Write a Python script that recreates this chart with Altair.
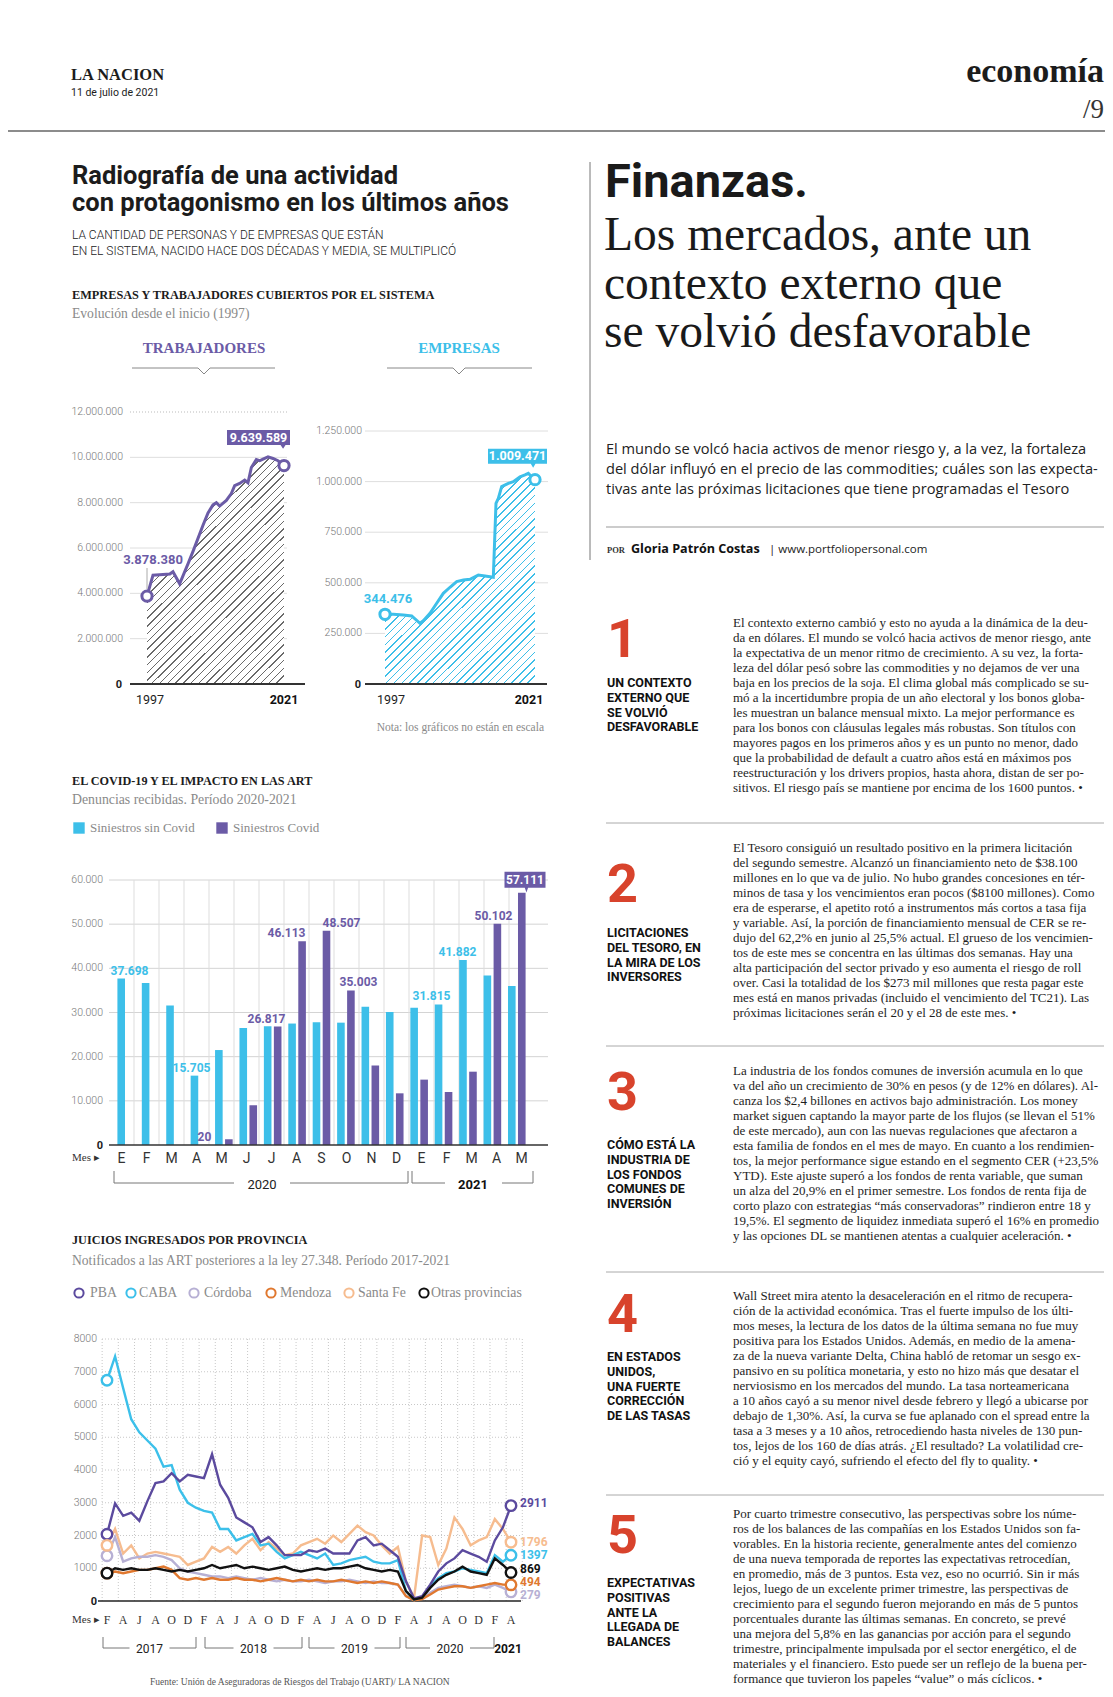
import altair as alt
import pandas as pd

OX = OY = 8
PURPLE = '#6b5ba6'
CYAN = '#3dbfe9'
RED = '#d8432c'
INK = '#1c1c1c'
GRAY = '#8a8a8a'
SERIF = 'Liberation Serif'
SANS = 'Roboto'

# ---------------- data ----------------
trab_anio = [1997, 1998.05, 1999.2, 2001.0, 2001.55, 2002.72, 2004.18, 2005.06, 2006.81, 2007.69,
             2008.56, 2009.15, 2009.73, 2010.9, 2011.77, 2012.36, 2013.23, 2014.11, 2014.69,
             2015.28, 2016.15, 2016.74, 2017.32, 2018.2, 2019.07, 2019.95, 2021]
trab_val = [3878380, 4800000, 4820000, 4850000, 4950000, 4420000, 5300000, 5850000, 7000000, 7550000,
            7900000, 8000000, 7850000, 8100000, 8400000, 8750000, 8850000, 9000000, 8880000,
            9550000, 9900000, 9850000, 9920000, 10020000, 9950000, 9850000, 9639589]
trab_ticks = [2000000, 4000000, 6000000, 8000000, 10000000, 12000000]

emp_anio = [1997, 1998.33, 1999.93, 2001.27, 2002.6, 2003.13, 2004.2, 2005.27, 2006.33, 2007.4,
            2008.47, 2009.53, 2010.6, 2011.93, 2013.0, 2014.33, 2014.76, 2015.13, 2015.67,
            2016.73, 2017.53, 2018.6, 2019.4, 2019.93, 2020.47, 2021]
emp_val = [344476, 344000, 341000, 336000, 300000, 313000, 349000, 399000, 448000, 478000,
           506000, 514000, 517000, 538000, 534000, 527000, 893000, 917000, 975000,
           991000, 1000000, 1024000, 1033000, 1041000, 1024000, 1009471]
emp_ticks = [250000, 500000, 750000, 1000000, 1250000]

meses = ['E', 'F', 'M', 'A', 'M', 'J', 'J', 'A', 'S', 'O', 'N', 'D', 'E', 'F', 'M', 'A', 'M']
sin_covid = [37698, 36700, 31600, 15705, 21500, 26500, 26900, 27500, 27800, 27700, 31300, 30100,
             31100, 31815, 41882, 38400, 36000]
con_covid = [0, 0, 0, 20, 1300, 9000, 26817, 46113, 48507, 35003, 18000, 11700,
             14800, 12000, 16600, 50102, 57111]
covid_ticks = [10000, 20000, 30000, 40000, 50000, 60000]

juicio_meses = ['F', 'A', 'J', 'A', 'O', 'D'] * 4 + ['F', 'A']
pba = [2040, 2980, 2600, 2700, 2450, 3050, 3600, 3650, 3900, 3650, 3850, 3800, 3750, 4480, 3550, 3150,
       2550, 2400, 2250, 1800, 1950, 1700, 1400, 1400, 1400, 1550, 1500, 1600, 1450, 1450, 1450, 1850,
       1950, 1700, 1750, 1550, 1350, 600, 80, 150, 500, 900, 1150, 1300, 1550, 1450, 1350, 1200, 1850,
       2250, 2911]
caba = [6740, 7470, 6500, 5550, 5150, 4900, 4650, 4100, 4150, 3400, 3000, 2850, 2750, 2700, 2200, 2200,
        1850, 1950, 2050, 1700, 1750, 1500, 1300, 1400, 1500, 1400, 1300, 1450, 1100, 1150, 1250, 1300,
        1350, 1200, 1150, 1150, 1250, 300, 50, 120, 450, 700, 850, 900, 1000, 950, 900, 850, 1400,
        1200, 1397]
cordoba = [1380, 1950, 1200, 1300, 1350, 1350, 1400, 1350, 1250, 1000, 900, 850, 800, 750, 750, 700,
           750, 700, 650, 700, 650, 600, 650, 600, 600, 650, 600, 550, 600, 600, 650, 600, 550, 600,
           550, 550, 500, 150, 30, 80, 250, 400, 450, 500, 450, 400, 450, 400, 500, 400, 279]
mendoza = [850, 900, 850, 900, 950, 950, 1000, 1050, 950, 700, 650, 700, 650, 700, 650, 650, 700, 650,
           650, 600, 650, 700, 650, 600, 650, 600, 650, 600, 600, 650, 600, 550, 600, 550, 600, 550,
           500, 150, 20, 60, 200, 350, 400, 450, 450, 400, 450, 500, 550, 500, 494]
santafe = [1700, 2200, 1450, 1700, 1300, 1450, 1500, 1450, 1400, 1350, 1100, 1200, 1300, 1650, 1500,
           1650, 1450, 1700, 1900, 1550, 1800, 1600, 1400, 1450, 1700, 1800, 1900, 1750, 2000, 1800,
           2050, 2300, 2100, 2000, 1700, 1450, 1650, 600, 100, 2000, 1950, 1100, 1600, 2550, 2200,
           1700, 1850, 1950, 2500, 2200, 1796]
otras = [850, 1000, 950, 1000, 950, 950, 1000, 950, 900, 950, 900, 950, 1000, 1100, 1000, 1050, 1100,
         1000, 1050, 1000, 950, 1000, 1050, 950, 900, 950, 1000, 950, 1000, 1000, 1050, 1100, 1000,
         950, 900, 950, 900, 300, 50, 100, 400, 650, 800, 900, 1050, 900, 850, 800, 1300, 1100, 869]
juicio_ticks = [1000, 2000, 3000, 4000, 5000, 6000, 7000, 8000]
provincias = ['PBA', 'CABA', 'Córdoba', 'Mendoza', 'Santa Fe', 'Otras provincias']
prov_colores = ['#5b4a9e', '#3cc0ea', '#b7b0d4', '#e0782f', '#f6bc8f', '#111111']

# ---------------- helpers ----------------
one = pd.DataFrame({'k': [0]})


def fmt(v):
    return f"{int(round(v)):,}".replace(",", ".")


def T(text, x, y, size=12, font=SERIF, weight='normal', color=INK, align='left',
      baseline='alphabetic', lh=None, style=None):
    kw = dict(text=text, font=font, fontSize=size, fontWeight=weight, color=color,
              align=align, baseline=baseline)
    if lh is not None:
        kw['lineHeight'] = lh
    if style:
        kw['fontStyle'] = style
    return alt.Chart(one).mark_text(**kw).encode(x=alt.value(x - OX), y=alt.value(y - OY))


def R(x1, y1, x2, y2, color='#999', w=1.0, dash=None):
    kw = dict(color=color, strokeWidth=w)
    if dash:
        kw['strokeDash'] = dash
    return alt.Chart(one).mark_rule(**kw).encode(
        x=alt.value(x1 - OX), y=alt.value(y1 - OY), x2=alt.value(x2 - OX), y2=alt.value(y2 - OY))


def hatch(color, W, H, period=5.5, frac=0.18):
    r = W / H
    k = (r + 1) / (r * r + 1)
    n = int(round((W + H) / 2 ** 0.5 / period))
    stops = []
    for i in range(n):
        a, b, c = i / n, (i + 1 - frac) / n, (i + 1) / n
        stops += [alt.GradientStop(color='#ffffff', offset=a), alt.GradientStop(color='#ffffff', offset=b),
                  alt.GradientStop(color=color, offset=b), alt.GradientStop(color=color, offset=c)]
    return alt.LinearGradient(gradient='linear', stops=stops, x1=0, y1=0, x2=k * r, y2=k)


def box_path(hw, hh, tip_x, tip_y):
    return (f"M-1,{-hh} L1,{-hh} L1,{hh} L{tip_x + 0.08},{hh} L{tip_x},{tip_y} "
            f"L{tip_x - 0.08},{hh} L-1,{hh} Z")


layers = []

# ---------------- header ----------------
layers += [
    T('LA NACION', 71, 80, size=16.5, weight='bold'),
    T('11 de julio de 2021', 71, 96, size=10.5, font=SANS),
    T('economía', 1104, 82, size=34, weight='bold', align='right'),
    T('/9', 1104, 118, size=27, align='right', color='#333'),
    R(0, 131, 1113, 131, color='#666', w=1.5),
    R(590, 162, 590, 560, color='#777', w=1),
]

# ---------------- left column titles ----------------
layers += [
    T('Radiografía de una actividad', 72, 184, size=25.5, font=SANS, weight='bold'),
    T('con protagonismo en los últimos años', 72, 211, size=25.5, font=SANS, weight='bold'),
    T(['LA CANTIDAD DE PERSONAS Y DE EMPRESAS QUE ESTÁN',
       'EN EL SISTEMA, NACIDO HACE DOS DÉCADAS Y MEDIA, SE MULTIPLICÓ'], 72, 239,
      size=12, font=SANS, weight=300, lh=16, color='#222'),
    T('EMPRESAS Y TRABAJADORES CUBIERTOS POR EL SISTEMA', 72, 299, size=12.3, weight='bold'),
    T('Evolución desde el inicio (1997)', 72, 318, size=13.6, color=GRAY),
    T('TRABAJADORES', 204, 353, size=15, weight='bold', color=PURPLE, align='center'),
    T('EMPRESAS', 459, 353, size=15, weight='bold', color=CYAN, align='center'),
    R(132, 368, 198, 368, color='#888'), R(198, 368, 204, 374, color='#888'),
    R(204, 374, 210, 368, color='#888'), R(210, 368, 275, 368, color='#888'),
    R(387, 368, 453, 368, color='#888'), R(453, 368, 459, 374, color='#888'),
    R(459, 374, 465, 368, color='#888'), R(465, 368, 532, 368, color='#888'),
]

# ---------------- trabajadores chart ----------------
df_t = pd.DataFrame({'anio': trab_anio, 'val': trab_val})
df_tt = pd.DataFrame({'v': trab_ticks, 'lab': [fmt(v) for v in trab_ticks]})
xs_t = alt.Scale(domain=[1997, 2021], range=[147 - OX, 284 - OX], nice=False, zero=False)
ys_t = alt.Scale(domain=[0, 12000000], range=[684 - OY, 412 - OY], nice=False)
Xt = alt.X('anio:Q', scale=xs_t, axis=None)
Yt = alt.Y('val:Q', scale=ys_t, axis=None)
Ytick = alt.Y('v:Q', scale=ys_t, axis=None)
layers += [
    alt.Chart(df_tt).transform_filter('datum.v < 12000000').mark_rule(color='#dedede', strokeWidth=1)
    .encode(y=Ytick, x=alt.value(130 - OX), x2=alt.value(287 - OX)),
    alt.Chart(df_tt).transform_filter('datum.v >= 12000000').mark_rule(color='#bbbbbb', strokeWidth=1, strokeDash=[1, 2])
    .encode(y=Ytick, x=alt.value(130 - OX), x2=alt.value(287 - OX)),
    alt.Chart(df_tt).mark_text(align='right', baseline='middle', font=SANS, fontWeight=300, fontSize=10.5, color='#777')
    .encode(y=Ytick, x=alt.value(123 - OX), text='lab:N'),
    alt.Chart(df_t).mark_area(color=hatch('#6a6a6a', 137, 228), interpolate='linear').encode(x=Xt, y=Yt),
    alt.Chart(df_t).mark_line(color=PURPLE, strokeWidth=3).encode(x=Xt, y=Yt),
    R(130, 684, 305, 684, color='#333', w=2),
    T('0', 122, 688, size=11, font=SANS, weight='bold', align='right'),
    alt.Chart(df_t.iloc[[0]].assign(lab=['1997'])).mark_text(font=SANS, fontSize=12.5, color='#222', dx=3)
    .encode(x=Xt, y=alt.value(700 - OY), text='lab:N'),
    alt.Chart(df_t.iloc[[-1]].assign(lab=['2021'])).mark_text(font=SANS, fontSize=12.5, fontWeight='bold', color='#111')
    .encode(x=Xt, y=alt.value(700 - OY), text='lab:N'),
    alt.Chart(df_t.iloc[[0]]).mark_rule(color='#aaa', strokeWidth=1).encode(x=Xt, y=alt.value(568 - OY), y2=alt.value(589 - OY)),
    alt.Chart(df_t.iloc[[0, -1]]).mark_point(shape='circle', filled=True, fill='white', stroke=PURPLE, strokeWidth=3,
                                             size=105, opacity=1).encode(x=Xt, y=Yt),
    alt.Chart(df_t.iloc[[0]].assign(lab=[fmt(trab_val[0])])).mark_text(
        font=SANS, fontWeight='bold', fontSize=13, color=PURPLE, dx=6, dy=-32, baseline='alphabetic')
    .encode(x=Xt, y=Yt, text='lab:N'),
    alt.Chart(df_t.iloc[[-1]]).mark_point(shape=box_path(1, 0.24, 0.78, 0.36), filled=True, color=PURPLE,
                                          opacity=1, size=3969, xOffset=-25.5, yOffset=-28).encode(x=Xt, y=Yt),
    alt.Chart(df_t.iloc[[-1]].assign(lab=[fmt(trab_val[-1])])).mark_text(
        font=SANS, fontWeight='bold', fontSize=12.5, color='white', dx=-25.5, dy=-28, baseline='middle')
    .encode(x=Xt, y=Yt, text='lab:N'),
]

# ---------------- empresas chart ----------------
df_e = pd.DataFrame({'anio': emp_anio, 'val': emp_val})
df_et = pd.DataFrame({'v': emp_ticks, 'lab': [fmt(v) for v in emp_ticks]})
xs_e = alt.Scale(domain=[1997, 2021], range=[385 - OX, 535 - OX], nice=False, zero=False)
ys_e = alt.Scale(domain=[0, 1250000], range=[684 - OY, 431 - OY], nice=False)
Xe = alt.X('anio:Q', scale=xs_e, axis=None)
Ye = alt.Y('val:Q', scale=ys_e, axis=None)
Yetick = alt.Y('v:Q', scale=ys_e, axis=None)
layers += [
    alt.Chart(df_et).mark_rule(color='#dedede', strokeWidth=1)
    .encode(y=Yetick, x=alt.value(365 - OX), x2=alt.value(548 - OX)),
    alt.Chart(df_et).mark_text(align='right', baseline='middle', font=SANS, fontWeight=300, fontSize=10.5, color='#777')
    .encode(y=Yetick, x=alt.value(362 - OX), text='lab:N'),
    alt.Chart(df_e).mark_area(color=hatch(CYAN, 150, 211, frac=0.2), interpolate='linear').encode(x=Xe, y=Ye),
    alt.Chart(df_e).mark_line(color=CYAN, strokeWidth=3).encode(x=Xe, y=Ye),
    R(365, 684, 547, 684, color='#333', w=2),
    T('0', 361, 688, size=11, font=SANS, weight='bold', align='right'),
    alt.Chart(df_e.iloc[[0]].assign(lab=['1997'])).mark_text(font=SANS, fontSize=12.5, color='#222', dx=6)
    .encode(x=Xe, y=alt.value(700 - OY), text='lab:N'),
    alt.Chart(df_e.iloc[[-1]].assign(lab=['2021'])).mark_text(font=SANS, fontSize=12.5, fontWeight='bold', color='#111', dx=-6)
    .encode(x=Xe, y=alt.value(700 - OY), text='lab:N'),
    alt.Chart(df_e.iloc[[0, -1]]).mark_point(shape='circle', filled=True, fill='white', stroke=CYAN, strokeWidth=3,
                                             size=105, opacity=1).encode(x=Xe, y=Ye),
    alt.Chart(df_e.iloc[[0]].assign(lab=[fmt(emp_val[0])])).mark_text(
        font=SANS, fontWeight='bold', fontSize=13, color=CYAN, dx=3, dy=-11, baseline='alphabetic')
    .encode(x=Xe, y=Ye, text='lab:N'),
    alt.Chart(df_e.iloc[[-1]]).mark_point(shape=box_path(1, 0.254, 0.53, 0.39), filled=True, color=CYAN,
                                          opacity=1, size=3481, xOffset=-17.5, yOffset=-23.5).encode(x=Xe, y=Ye),
    alt.Chart(df_e.iloc[[-1]].assign(lab=[fmt(emp_val[-1])])).mark_text(
        font=SANS, fontWeight='bold', fontSize=12.5, color='white', dx=-17.5, dy=-23.5, baseline='middle')
    .encode(x=Xe, y=Ye, text='lab:N'),
    T('Nota: los gráficos no están en escala', 544, 731, size=11.5, color=GRAY, align='right'),
]

# ---------------- covid bar chart ----------------
df_c = pd.DataFrame({'i': list(range(len(meses))), 'mes': meses, 'sin': sin_covid, 'con': con_covid})
df_c['lab_sin'] = [fmt(v) for v in sin_covid]
df_c['lab_con'] = [fmt(v) for v in con_covid]
df_ct = pd.DataFrame({'v': covid_ticks, 'lab': [fmt(v) for v in covid_ticks]})
xs_c = alt.Scale(domain=[0, 17], range=[109 - OX, 534 - OX], nice=False, zero=False)
ys_c = alt.Scale(domain=[0, 60000], range=[1145 - OY, 880 - OY], nice=False)
Xc = alt.X('c:Q', scale=xs_c, axis=None)
Xb = alt.X('i:Q', scale=xs_c, axis=None)
Yctick = alt.Y('v:Q', scale=ys_c, axis=None)
lab_dx_sin = {0: 13, 3: 0, 13: -10, 14: -9}
lab_dx_con = {3: 3, 6: -10, 7: -15, 8: 15, 9: 7, 15: -8}

base_c = alt.Chart(df_c).transform_calculate(c='datum.i + 0.5')
layers += [
    T('EL COVID-19 Y EL IMPACTO EN LAS ART', 72, 785, size=12.2, weight='bold'),
    T('Denuncias recibidas. Período 2020-2021', 72, 804, size=13.8, color=GRAY),
    alt.Chart(one).mark_square(color=CYAN, size=130, opacity=1).encode(x=alt.value(79 - OX), y=alt.value(828 - OY)),
    T('Siniestros sin Covid', 90, 832, size=13, color=GRAY),
    alt.Chart(one).mark_square(color=PURPLE, size=130, opacity=1).encode(x=alt.value(222 - OX), y=alt.value(828 - OY)),
    T('Siniestros Covid', 233, 832, size=13, color=GRAY),
    alt.Chart(df_ct).mark_rule(color='#d4d4d4', strokeWidth=1)
    .encode(y=Yctick, x=alt.value(109 - OX), x2=alt.value(548 - OX)),
    alt.Chart(df_c).transform_filter('datum.i > 0').mark_rule(color='#dddddd', strokeWidth=1)
    .encode(x=Xb, y=alt.value(880 - OY), y2=alt.value(1145 - OY)),
    alt.Chart(df_ct).mark_text(align='right', baseline='middle', font=SANS, fontWeight=300, fontSize=10.5, color='#777')
    .encode(y=Yctick, x=alt.value(103 - OX), text='lab:N'),
    base_c.mark_bar(color=CYAN, width=7.6, xOffset=-5).encode(x=Xc, y=alt.Y('sin:Q', scale=ys_c, axis=None)),
    base_c.mark_bar(color=PURPLE, width=7.6, xOffset=5).encode(x=Xc, y=alt.Y('con:Q', scale=ys_c, axis=None)),
    R(109, 1145, 548, 1145, color='#333', w=1.5),
    T('0', 103, 1149, size=11, font=SANS, weight='bold', align='right'),
]
for idx, dx in lab_dx_sin.items():
    layers.append(base_c.transform_filter(f'datum.i == {idx}').mark_text(
        font=SANS, fontWeight='bold', fontSize=12, color=CYAN, dx=-5 + dx, dy=-4, baseline='alphabetic')
        .encode(x=Xc, y=alt.Y('sin:Q', scale=ys_c, axis=None), text='lab_sin:N'))
for idx, dx in lab_dx_con.items():
    layers.append(base_c.transform_filter(f'datum.i == {idx}').mark_text(
        font=SANS, fontWeight='bold', fontSize=12, color=PURPLE, dx=5 + dx, dy=-4, baseline='alphabetic')
        .encode(x=Xc, y=alt.Y('con:Q', scale=ys_c, axis=None), text='lab_con:N'))
last = len(meses) - 1
layers += [
    base_c.transform_filter(f'datum.i == {last}').mark_point(
        shape=box_path(1, 0.39, 0.07, 0.62), filled=True, color=PURPLE, opacity=1, size=1681,
        xOffset=3.5, yOffset=-13).encode(x=Xc, y=alt.Y('con:Q', scale=ys_c, axis=None)),
    base_c.transform_filter(f'datum.i == {last}').mark_text(
        font=SANS, fontWeight='bold', fontSize=12, color='white', dx=3.5, dy=-13, baseline='middle')
    .encode(x=Xc, y=alt.Y('con:Q', scale=ys_c, axis=None), text='lab_con:N'),
    base_c.mark_text(font=SANS, fontSize=14, color='#333', baseline='alphabetic')
    .encode(x=Xc, y=alt.value(1163 - OY), text='mes:N'),
    T('Mes ▸', 72, 1161, size=11, color='#333'),
    R(114, 1171, 114, 1183, color='#777'), R(114, 1183, 234, 1183, color='#777'),
    R(290, 1183, 408, 1183, color='#777'), R(408, 1171, 408, 1183, color='#777'),
    T('2020', 262, 1189, size=13, font=SANS, align='center', color='#222'),
    R(412, 1171, 412, 1183, color='#777'), R(412, 1183, 445, 1183, color='#777'),
    R(502, 1183, 533, 1183, color='#777'), R(533, 1171, 533, 1183, color='#777'),
    T('2021', 473, 1189, size=13, font=SANS, weight='bold', align='center', color='#111'),
]

# ---------------- juicios chart ----------------
series = [pba, caba, cordoba, mendoza, santafe, otras]
rows = []
for name, vals in zip(provincias, series):
    for i, v in enumerate(vals):
        rows.append({'i': i, 'val': v, 'prov': name})
df_j = pd.DataFrame(rows)
df_jt = pd.DataFrame({'v': juicio_ticks, 'lab': [str(v) for v in juicio_ticks]})
df_jm = pd.DataFrame({'i': [2 * k for k in range(len(juicio_meses))], 'mes': juicio_meses})
df_jg = pd.DataFrame({'g': [-0.6 + 2 * k for k in range(27)]})
xs_j = alt.Scale(domain=[0, 50], range=[107 - OX, 511 - OX], nice=False, zero=False)
ys_j = alt.Scale(domain=[0, 8000], range=[1601 - OY, 1339 - OY], nice=False)
Xj = alt.X('i:Q', scale=xs_j, axis=None)
Yj = alt.Y('val:Q', scale=ys_j, axis=None)
col_j = alt.Color('prov:N', scale=alt.Scale(domain=provincias, range=prov_colores), legend=None)

legend_circ = [79, 131, 194, 271, 349, 424]
legend_txt = [90, 139, 204, 280, 358, 431]
layers += [
    T('JUICIOS INGRESADOS POR PROVINCIA', 72, 1244, size=12.2, weight='bold'),
    T('Notificados a las ART posteriores a la ley 27.348. Período 2017-2021', 72, 1265, size=13.6, color=GRAY),
]
for name, c, lx, tx in zip(provincias, prov_colores, legend_circ, legend_txt):
    layers.append(alt.Chart(one).mark_point(shape='circle', filled=False, color=c, strokeWidth=2, size=85, opacity=1)
                  .encode(x=alt.value(lx - OX), y=alt.value(1293 - OY)))
    layers.append(T(name, tx, 1297, size=13.8, color=GRAY))
layers += [
    alt.Chart(df_jt).mark_rule(color='#c8c8c8', strokeWidth=1, strokeDash=[1, 2])
    .encode(y=alt.Y('v:Q', scale=ys_j, axis=None), x=alt.value(102 - OX), x2=alt.value(520 - OX)),
    alt.Chart(df_jg).mark_rule(color='#c8c8c8', strokeWidth=1, strokeDash=[1, 2])
    .encode(x=alt.X('g:Q', scale=xs_j, axis=None), y=alt.value(1339 - OY), y2=alt.value(1601 - OY)),
    alt.Chart(df_jt).mark_text(align='right', baseline='middle', font=SANS, fontWeight=300, fontSize=10.5, color='#777')
    .encode(y=alt.Y('v:Q', scale=ys_j, axis=None), x=alt.value(97 - OX), text='lab:N'),
    R(98, 1601, 521, 1601, color='#222', w=1.5),
    T('0', 97, 1605, size=11, font=SANS, weight='bold', align='right'),
]
order = ['Santa Fe', 'Córdoba', 'Mendoza', 'CABA', 'PBA', 'Otras provincias']
for name in order:
    layers.append(alt.Chart(df_j).transform_filter(alt.datum.prov == name)
                  .mark_line(strokeWidth=2.4, interpolate='linear').encode(x=Xj, y=Yj, color=col_j))
layers.append(alt.Chart(df_j).transform_filter('datum.i == 0 || datum.i == 50')
              .mark_point(shape='circle', filled=True, fill='white', strokeWidth=2.4, size=110, opacity=1)
              .encode(x=Xj, y=Yj, stroke=alt.Stroke('prov:N', scale=alt.Scale(domain=provincias, range=prov_colores), legend=None)))
end_dy = {'PBA': -3, 'Santa Fe': 0, 'CABA': 0, 'Otras provincias': -4, 'Mendoza': -3, 'Córdoba': 3}
for name, c in zip(provincias, prov_colores):
    layers.append(alt.Chart(df_j).transform_filter(f'datum.i == 50 && datum.prov == "{name}"')
                  .transform_calculate(lab='format(datum.val, "d")')
                  .mark_text(font=SANS, fontWeight='bold', fontSize=12, color=c, align='left', baseline='middle',
                             dx=9, dy=end_dy[name])
                  .encode(x=Xj, y=Yj, text='lab:N'))
layers += [
    alt.Chart(df_jm).mark_text(font=SERIF, fontSize=12, color='#333', baseline='alphabetic')
    .encode(x=Xj, y=alt.value(1624 - OY), text='mes:N'),
    T('Mes ▸', 72, 1623, size=11, color='#333'),
]
brackets = [(103, 196, '2017', 'normal'), (205, 302, '2018', 'normal'), (309, 400, '2019', 'normal'),
            (406, 494, '2020', 'normal'), (500, 516, '2021', 'bold')]
for x1, x2, lab, w in brackets:
    cx = (x1 + x2) / 2
    if x2 - x1 > 40:
        layers += [R(x1, 1637, x1, 1648, color='#777'), R(x2, 1637, x2, 1648, color='#777'),
                   R(x1, 1648, cx - 20, 1648, color='#777'), R(cx + 20, 1648, x2, 1648, color='#777')]
        layers.append(T(lab, cx, 1653, size=12, font=SANS, weight=w, align='center', color='#222'))
    else:
        layers.append(T(lab, 508, 1653, size=12, font=SANS, weight=w, align='center', color='#111'))
layers.append(T('Fuente: Unión de Aseguradoras de Riesgos del Trabajo (UART)/ LA NACION', 150, 1685,
                size=9.5, color='#555'))

# ---------------- right column ----------------
layers += [
    T('Finanzas.', 605, 197, size=47, font=SANS, weight='bold', color='#1a1a1a'),
    T(['Los mercados, ante un', 'contexto externo que', 'se volvió desfavorable'], 604, 250,
      size=47.5, font=SERIF, color='#1a1a1a', lh=48.5),
    T(['El mundo se volcó hacia activos de menor riesgo y, a la vez, la fortaleza',
       'del dólar influyó en el precio de las commodities; cuáles son las expecta-',
       'tivas ante las próximas licitaciones que tiene programadas el Tesoro'], 606, 454,
      size=14.6, font='Open Sans', color='#222', lh=20),
    R(606, 527, 1104, 527, color='#999', w=1),
    T('POR', 607, 553, size=8.5, weight='bold', color='#333'),
    T('Gloria Patrón Costas', 631, 553, size=12.6, font='Open Sans', weight='bold', color='#111'),
    T('| www.portfoliopersonal.com', 769, 553, size=11.5, font='Open Sans', color='#222'),
]

sections = [
    ('1', ['UN CONTEXTO', 'EXTERNO QUE', 'SE VOLVIÓ', 'DESFAVORABLE'],
     ['El contexto externo cambió y esto no ayuda a la dinámica de la deu-',
      'da en dólares. El mundo se volcó hacia activos de menor riesgo, ante',
      'la expectativa de un menor ritmo de crecimiento. A su vez, la forta-',
      'leza del dólar pesó sobre las commodities y no dejamos de ver una',
      'baja en los precios de la soja. El clima global más complicado se su-',
      'mó a la incertidumbre propia de un año electoral y los bonos globa-',
      'les muestran un balance mensual mixto. La mejor performance es',
      'para los bonos con cláusulas legales más robustas. Son títulos con',
      'mayores pagos en los primeros años y es un punto no menor, dado',
      'que la probabilidad de default a cuatro años está en máximos pos',
      'reestructuración y los drivers propios, hasta ahora, distan de ser po-',
      'sitivos. El riesgo país se mantiene por encima de los 1600 puntos. •'], 627, 657, 687),
    ('2', ['LICITACIONES', 'DEL TESORO, EN', 'LA MIRA DE LOS', 'INVERSORES'],
     ['El Tesoro consiguió un resultado positivo en la primera licitación',
      'del segundo semestre. Alcanzó un financiamiento neto de $38.100',
      'millones en lo que va de julio. No hubo grandes concesiones en tér-',
      'minos de tasa y los vencimientos eran pocos ($8100 millones). Como',
      'era de esperarse, el apetito rotó a instrumentos más cortos a tasa fija',
      'y variable. Así, la porción de financiamiento mensual de CER se re-',
      'dujo del 62,2% en junio al 25,5% actual. El grueso de los vencimien-',
      'tos de este mes se concentra en las últimas dos semanas. Hay una',
      'alta participación del sector privado y eso aumenta el riesgo de roll',
      'over. Casi la totalidad de los $273 mil millones que resta pagar este',
      'mes está en manos privadas (incluido el vencimiento del TC21). Las',
      'próximas licitaciones serán el 20 y el 28 de este mes. •'], 852, 902, 937),
    ('3', ['CÓMO ESTÁ LA', 'INDUSTRIA DE', 'LOS FONDOS', 'COMUNES DE', 'INVERSIÓN'],
     ['La industria de los fondos comunes de inversión acumula en lo que',
      'va del año un crecimiento de 30% en pesos (y de 12% en dólares). Al-',
      'canza los $2,4 billones en activos bajo administración. Los money',
      'market siguen captando la mayor parte de los flujos (se llevan el 51%',
      'de este mercado), aun con las nuevas regulaciones que afectaron a',
      'esta familia de fondos en el mes de mayo. En cuanto a los rendimien-',
      'tos, la mejor performance sigue estando en el segmento CER (+23,5%',
      'YTD).  Este ajuste superó a los fondos de renta variable, que suman',
      'un alza del 20,9% en el primer semestre. Los fondos de renta fija de',
      'corto plazo con estrategias “más conservadoras” rindieron entre 18 y',
      '19,5%. El segmento de liquidez inmediata superó el 16% en promedio',
      'y las opciones DL se mantienen atentas a cualquier aceleración. •'], 1075, 1110, 1149),
    ('4', ['EN ESTADOS', 'UNIDOS,', 'UNA FUERTE', 'CORRECCIÓN', 'DE LAS TASAS'],
     ['Wall Street mira atento la desaceleración en el ritmo de recupera-',
      'ción de la actividad económica. Tras el fuerte impulso de los  últi-',
      'mos meses, la lectura de los datos de la última semana no fue muy',
      'positiva para los Estados Unidos. Además, en medio de la amena-',
      'za de la nueva variante Delta, China habló de retomar un sesgo ex-',
      'pansivo en su política monetaria, y esto no hizo más que desatar el',
      'nerviosismo en los mercados del mundo. La tasa norteamericana',
      'a 10 años cayó a su menor nivel desde febrero y llegó a ubicarse por',
      'debajo de 1,30%. Así, la curva se fue aplanado con el spread entre la',
      'tasa a 3 meses y a 10 años, retrocediendo hasta niveles de 130 pun-',
      'tos, lejos de los 160 de días atrás. ¿El resultado? La volatilidad cre-',
      'ció y el equity cayó, sufriendo el efecto del fly to quality. •'], 1300, 1332, 1361),
    ('5', ['EXPECTATIVAS', 'POSITIVAS', 'ANTE LA', 'LLEGADA DE', 'BALANCES'],
     ['Por cuarto trimestre consecutivo, las perspectivas sobre los núme-',
      'ros de los balances de las compañías en los Estados Unidos son fa-',
      'vorables. En la historia reciente, generalmente antes del comienzo',
      'de una nueva temporada de reportes las expectativas retrocedían,',
      'en promedio, más de 3 puntos. Esta vez, eso no ocurrió. Sin ir más',
      'lejos, luego de un excelente primer trimestre, las perspectivas de',
      'crecimiento para el segundo fueron mejorando en más de 5 puntos',
      'porcentuales durante las últimas semanas. En concreto, se prevé',
      'una mejora del 5,8% en las ganancias por acción para el segundo',
      'trimestre, principalmente impulsada por el sector energético, el de',
      'materiales y el financiero. Esto puede ser un reflejo de la buena per-',
      'formance que tuvieron los papeles “value” o más cíclicos. •'], 1518, 1553, 1587),
]
for num, head, body, yb, yn, yh in sections:
    layers += [
        T(num, 607, yn, size=54, font=SANS, weight='bold', color=RED),
        T(head, 607, yh, size=12.5, font=SANS, weight='bold', color='#111', lh=14.8),
        T(body, 733, yb, size=13.0, font=SERIF, color='#1e1e1e', lh=15.0),
    ]
for ys in [823, 1046, 1272, 1495]:
    layers.append(R(606, ys, 1104, ys, color='#aaa', w=1))

chart = alt.layer(*layers).properties(
    width=1097, height=1681, padding=0, autosize=alt.AutoSizeParams(type='none'),
    background='white'
).resolve_scale(x='independent', y='independent', color='independent', stroke='independent'
                ).configure_view(stroke=None)

chart.save('out.html', embed_options={'renderer': 'svg', 'actions': False})
